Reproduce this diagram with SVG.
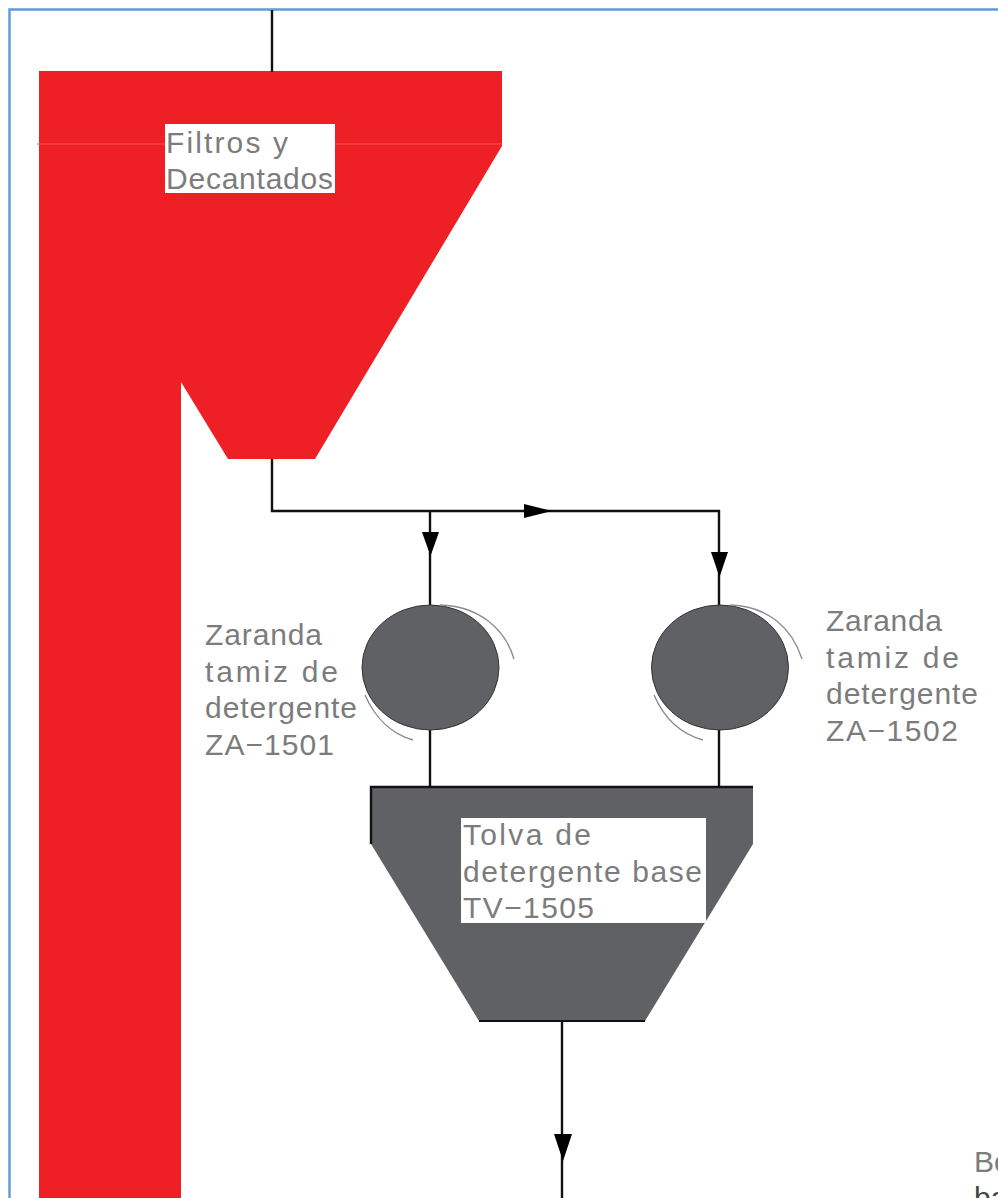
<svg xmlns="http://www.w3.org/2000/svg" width="998" height="1198" viewBox="0 0 998 1198">
<style>
.t{font-family:"Liberation Sans",Arial,sans-serif;font-size:30px;fill:#7c7c7c;stroke:none}
.c{fill:none;stroke:#111;stroke-width:2.4}
.a{fill:#000;stroke:none}
.g{fill:#606164;stroke:#333;stroke-width:1}
.arc{fill:none;stroke:#8c8c8c;stroke-width:1.4}
.r{fill:#ee2026}
.w{fill:#fff}
</style>
<rect width="998" height="1198" fill="#fff"/>
<path d="M998 9.500H9.500V1198" fill="none" stroke="#5b9bd8" stroke-width="2.400"/>
<g id="silo-filtros">
<path class="r" d="M39 71H502V146L315 459H228L181 382V1198H39Z"/>
<path d="M37 144H502" stroke="#f05a50" stroke-width="1" fill="none"/>
<rect class="w" x="165" y="124" width="170" height="69"/>
<text class="t" x="166" y="153" textLength="122" lengthAdjust="spacing">Filtros y</text>
<text class="t" x="166" y="189" textLength="167" lengthAdjust="spacing">Decantados</text>
</g>
<g id="connectors">
<path class="c" d="M272 10V72"/>
<path class="c" d="M272 459V511H719V606"/>
<path class="c" d="M430 511V606"/>
<path class="c" d="M430 729V788"/>
<path class="c" d="M719 729V788"/>
<path class="c" d="M562 1021V1198"/>
<path class="a" d="M524 504L552 511L524 518Z"/>
<path class="a" d="M422 532H439L430.500 556Z"/>
<path class="a" d="M711 552H728L719.500 577Z"/>
<path class="a" d="M554 1134H572L563 1161Z"/>
</g>
<g id="zaranda-1501">
<ellipse class="g" cx="430.500" cy="667.500" rx="68.500" ry="62.500"/>
<path class="arc" d="M440 605C478 606 505 628 514 659"/>
<path class="arc" d="M365 695C375 718 392 734 413 740"/>
<text class="t" x="205" y="645" textLength="117">Zaranda</text>
<text class="t" x="205" y="682" textLength="133">tamiz de</text>
<text class="t" x="205" y="718" textLength="152">detergente</text>
<text class="t" x="205" y="755" textLength="129">ZA−1501</text>
</g>
<g id="zaranda-1502">
<ellipse class="g" cx="720" cy="667.500" rx="68.500" ry="62.500"/>
<path class="arc" d="M730 605C768 606 792 628 802 659"/>
<path class="arc" d="M654 695C664 718 681 734 703 740"/>
<text class="t" x="826" y="631" textLength="116">Zaranda</text>
<text class="t" x="826" y="668" textLength="133">tamiz de</text>
<text class="t" x="826" y="704" textLength="152">detergente</text>
<text class="t" x="826" y="741" textLength="132">ZA−1502</text>
</g>
<g id="tolva-1505">
<path fill="#606164" d="M371 787H753V844L645 1021H479L371 844Z"/>
<path d="M371 844V787H753" fill="none" stroke="#111" stroke-width="2.400"/>
<path d="M479 1021H645" fill="none" stroke="#111" stroke-width="2"/>
<rect class="w" x="461" y="818" width="245" height="105"/>
<text class="t" x="463" y="845" textLength="128">Tolva de</text>
<text class="t" x="463" y="882" textLength="239">detergente base</text>
<text class="t" x="463" y="918" textLength="131">TV−1505</text>
</g>
<g id="label-bottom-right">
<text class="t" x="974" y="1172">Bo</text>
<text class="t" x="974" y="1208" style="fill:#444">ba</text>
</g>
</svg>
